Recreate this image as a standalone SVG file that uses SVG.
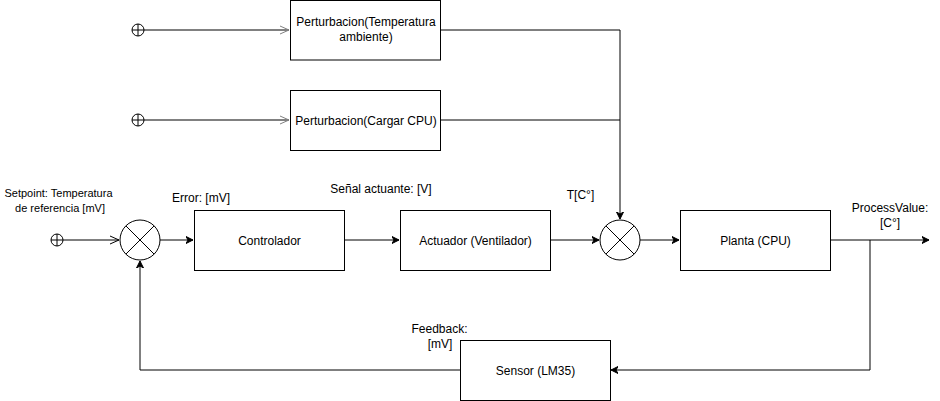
<svg xmlns="http://www.w3.org/2000/svg" width="940" height="401" viewBox="0 0 940 401">
<style>
.box{fill:#fff;stroke:#000;stroke-width:1}
.sum{fill:#fff;stroke:#000;stroke-width:1}
.x{stroke:#000;stroke-width:1;fill:none}
.src{fill:#fff;stroke:#000;stroke-width:1}
.w{fill:none;stroke:#000;stroke-width:1}
.g{fill:none;stroke:#808080;stroke-width:2}
text{font-family:"Liberation Sans",Arial,sans-serif;font-size:12px;fill:#000;text-anchor:middle}
.sm{font-size:11px}
</style>
<defs>
<marker id="fa" markerWidth="10" markerHeight="10" refX="7" refY="4" orient="auto" markerUnits="userSpaceOnUse">
<path d="M0,0.5 L7,4 L0,7.5 L2,4 Z" fill="#000" stroke="#000" stroke-width="1"/>
</marker>
<marker id="oa" markerWidth="12" markerHeight="12" refX="9" refY="5" orient="auto" markerUnits="userSpaceOnUse">
<path d="M0,1 L9,5 L0,9" fill="none" stroke="#000" stroke-width="1"/>
</marker>
<marker id="og" markerWidth="12" markerHeight="12" refX="9" refY="5" orient="auto" markerUnits="userSpaceOnUse">
<path d="M0,1 L9,5 L0,9" fill="none" stroke="#808080" stroke-width="1"/>
</marker>
</defs>
<g id="connectors">
<path class="g" d="M141,30 H289" marker-end="url(#og)"/>
<path class="g" d="M141,120 H289" marker-end="url(#og)"/>
<path class="w" d="M440,30 H620 V219" marker-end="url(#fa)"/>
<path class="w" d="M440,120 H620"/>
<path class="w" d="M63,240 H119" marker-end="url(#oa)"/>
<path class="w" d="M160,240 H193" marker-end="url(#fa)"/>
<path class="w" d="M345,240 H399" marker-end="url(#fa)"/>
<path class="w" d="M550,240 H599" marker-end="url(#fa)"/>
<path class="w" d="M640,240 H679" marker-end="url(#fa)"/>
<path class="w" d="M830,240 H929" marker-end="url(#fa)"/>
<path class="w" d="M870,240 V370 H611" marker-end="url(#fa)"/>
<path class="w" d="M460,370 H140 V261" marker-end="url(#fa)"/>
</g>
<g id="src1"><circle class="src" cx="138" cy="30" r="6"/><path class="x" d="M132,30 H144 M138,24 V36"/></g>
<g id="src2"><circle class="src" cx="138" cy="120" r="6"/><path class="x" d="M132,120 H144 M138,114 V126"/></g>
<g id="src3"><circle class="src" cx="57" cy="240" r="6"/><path class="x" d="M51,240 H63 M57,234 V246"/></g>
<g id="pert1"><rect class="box" x="290.5" y="0.5" width="150" height="59.5"/><text x="366" y="26">Perturbacion(Temperatura</text><text x="366" y="41">ambiente)</text></g>
<g id="pert2"><rect class="box" x="290.5" y="90.5" width="150" height="60"/><text x="366" y="124.5">Perturbacion(Cargar CPU)</text></g>
<g id="sum1"><circle class="sum" cx="140" cy="240" r="20"/><path class="x" d="M125.9,225.9 L154.1,254.1 M154.1,225.9 L125.9,254.1"/></g>
<g id="controlador"><rect class="box" x="194.5" y="210.5" width="150" height="60"/><text x="269.5" y="244.5">Controlador</text></g>
<g id="actuador"><rect class="box" x="400.5" y="210.5" width="150" height="60"/><text x="475.5" y="244.5">Actuador (Ventilador)</text></g>
<g id="sum2"><circle class="sum" cx="620" cy="240" r="20"/><path class="x" d="M605.9,225.9 L634.1,254.1 M634.1,225.9 L605.9,254.1"/></g>
<g id="planta"><rect class="box" x="680.5" y="210.5" width="150" height="60"/><text x="755.5" y="244.5">Planta (CPU)</text></g>
<g id="sensor"><rect class="box" x="460.5" y="340.5" width="150" height="60"/><text x="535.5" y="374.5">Sensor (LM35)</text></g>
<g id="labels">
<text class="sm" x="58.5" y="197">Setpoint: Temperatura</text>
<text class="sm" x="60" y="212">de referencia [mV]</text>
<text x="201" y="202">Error: [mV]</text>
<text x="381" y="193">Señal actuante: [V]</text>
<text x="580.5" y="199">T[C°]</text>
<text x="890" y="212">ProcessValue:</text>
<text x="890" y="227">[C°]</text>
<text x="439.5" y="333">Feedback:</text>
<text x="440" y="348">[mV]</text>
</g>
</svg>
